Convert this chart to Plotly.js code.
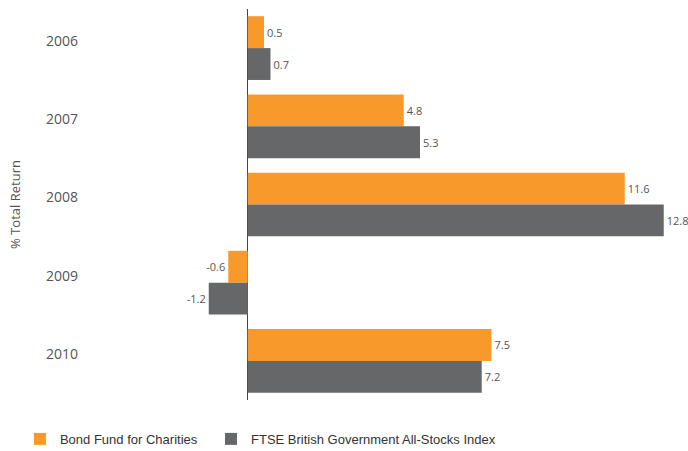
<!DOCTYPE html>
<html>
<head>
<meta charset="utf-8">
<script src="https://cdn.plot.ly/plotly-3.0.1.min.js"></script>
<style>html,body{margin:0;padding:0;background:#fff;}#chart{width:688px;height:451px;}</style>
</head>
<body>
<div id="chart"></div>
<script>
const years = ["2006", "2007", "2008", "2009", "2010"];
const bondFund = [0.5, 4.8, 11.6, -0.6, 7.5];
const ftseIndex = [0.7, 5.3, 12.8, -1.2, 7.2];
const seriesNames = ["Bond Fund for Charities", "FTSE British Government All-Stocks Index"];

const labelFont = {family: "Open Sans, sans-serif", size: 11, color: "#555"};
const traces = [
  {type: "bar", orientation: "h", y: years, x: bondFund, name: seriesNames[0],
   marker: {color: "#F7992B"}, text: bondFund.map(v => v.toFixed(1)), legend: "legend",
   textposition: "outside", textfont: labelFont, cliponaxis: false, hoverinfo: "none"},
  {type: "bar", orientation: "h", y: years, x: ftseIndex, name: seriesNames[1],
   marker: {color: "#666769"}, text: ftseIndex.map(v => v.toFixed(1)), legend: "legend2",
   textposition: "outside", textfont: labelFont, cliponaxis: false, hoverinfo: "none"}
];

const legendFont = {family: "Liberation Sans, sans-serif", size: 13, color: "#333"};
const layout = {
  width: 688, height: 451,
  margin: {l: 199, r: 2, t: 9, b: 51, autoexpand: false},
  paper_bgcolor: "#fff", plot_bgcolor: "#fff",
  barmode: "group", bargap: 0.185, bargroupgap: 0,
  xaxis: {range: [-1.5, 13.485], showgrid: false, showticklabels: false, ticks: "",
          zeroline: true, zerolinecolor: "#444", zerolinewidth: 1, fixedrange: true},
  yaxis: {type: "category", categoryorder: "array", categoryarray: years, autorange: "reversed",
          showgrid: false, zeroline: false, ticks: "", ticklabelstandoff: 120, ticklabelshift: 7,
          tickfont: {family: "Open Sans, sans-serif", size: 14, color: "#555"},
          title: {text: "% Total Return", font: {family: "Open Sans, sans-serif", size: 13, color: "#555"}, standoff: 22}},
  showlegend: true,
  legend: {orientation: "h", xref: "container", yref: "container", x: 0.029, xanchor: "left",
           y: 0.060, yanchor: "top", font: legendFont, itemwidth: 30},
  legend2: {orientation: "h", xref: "container", yref: "container", x: 0.3067, xanchor: "left",
           y: 0.060, yanchor: "top", font: legendFont, itemwidth: 30}
};

Plotly.newPlot("chart", traces, layout, {displayModeBar: false, staticPlot: true});
</script>
</body>
</html>
